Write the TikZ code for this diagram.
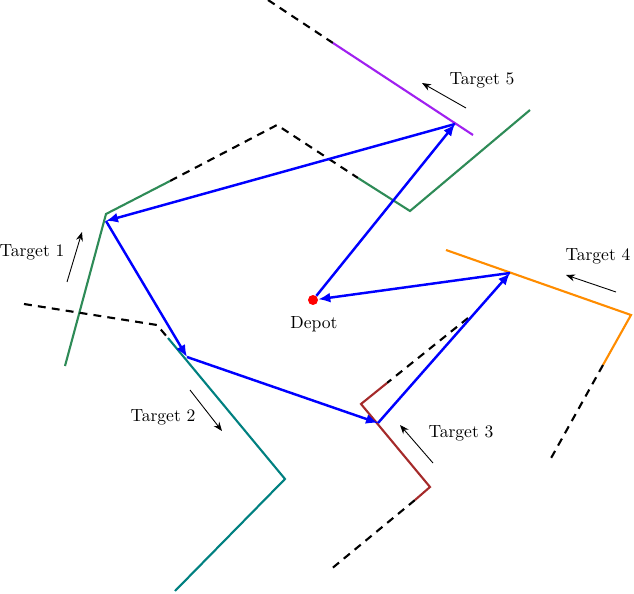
\documentclass[tikz,border=0pt]{standalone}
\usetikzlibrary{arrows.meta}
\definecolor{tgreen}{RGB}{46,139,87}
\definecolor{tteal}{RGB}{0,128,128}
\definecolor{tbrown}{RGB}{165,42,42}
\definecolor{torange}{RGB}{255,140,0}
\definecolor{tpurple}{RGB}{160,32,240}
\tikzset{
  trk/.style={line width=1.2pt, line join=miter},
  hid/.style={line width=1.2pt, dash pattern=on 4.5pt off 3.5pt, black},
  route/.style={blue, line width=1.4pt, -{Latex[length=2.4mm,width=2mm]}, shorten >=0pt},
  motion/.style={black, line width=0.5pt, -{Stealth[length=1.8mm,width=1.4mm]}},
  lab/.style={font=\normalsize, inner sep=0pt}
}
\begin{document}
\begin{tikzpicture}[x=0.2mm,y=-0.2mm]
\useasboundingbox (0,0) rectangle (634,594);
% Target 1 (green)
\draw[hid] (170,181) -- (277,125) -- (358,178);
\draw[trk,tgreen] (65,366) -- (106,214) -- (170,181);
\draw[trk,tgreen] (358,178) -- (410,211) -- (530,110);
% Target 2 (teal)
\draw[hid] (24,304) -- (157,325) -- (168,338);
\draw[trk,tteal] (168,338) -- (285,479) -- (175,591);
% Target 3 (brown)
\draw[hid] (468,318) -- (387,383);
\draw[hid] (415,500) -- (330,570);
\draw[trk,tbrown] (387,383) -- (361,404) -- (430,487) -- (415,500);
% Target 4 (orange)
\draw[trk,torange] (446,250) -- (631,315) -- (603,365);
\draw[hid] (603,365) -- (550,460);
% Target 5 (purple)
\draw[hid] (268,0) -- (333,43);
\draw[trk,tpurple] (333,43) -- (473,135);
% route points
\node[circle, fill=red, minimum size=2mm, inner sep=0pt] (depot) at (313,300) {};
\coordinate (v5) at (455,124);
\coordinate (v1) at (106,221);
\coordinate (v2) at (187,357);
\coordinate (v3) at (378,423);
\coordinate (v4) at (510,273);
\draw[route] (depot) -- (v5);
\draw[route] (v5) -- (v1);
\draw[route] (v1) -- (v2);
\draw[route] (v2) -- (v3);
\draw[route] (v3) -- (v4);
\draw[route] (v4) -- (depot);
% labels
\node[lab] (ldepot) at (314,324) {Depot};
\node[lab] (l1) at (32,252) {Target 1};
\node[lab] (l2) at (163,417) {Target 2};
\node[lab] (l3) at (461,433) {Target 3};
\node[lab] (l4) at (598,256) {Target 4};
\node[lab] (l5) at (482,80) {Target 5};
% motion arrows
\coordinate (a1s) at (67,282); \coordinate (a1e) at (82,232);
\coordinate (a2s) at (190,390); \coordinate (a2e) at (222,431);
\coordinate (a3s) at (433,463); \coordinate (a3e) at (400,425);
\coordinate (a4s) at (616,292); \coordinate (a4e) at (566,275);
\coordinate (a5s) at (466,108); \coordinate (a5e) at (422,83);
\draw[motion] (a1s) -- (a1e);
\draw[motion] (a2s) -- (a2e);
\draw[motion] (a3s) -- (a3e);
\draw[motion] (a4s) -- (a4e);
\draw[motion] (a5s) -- (a5e);
\end{tikzpicture}
\end{document}
